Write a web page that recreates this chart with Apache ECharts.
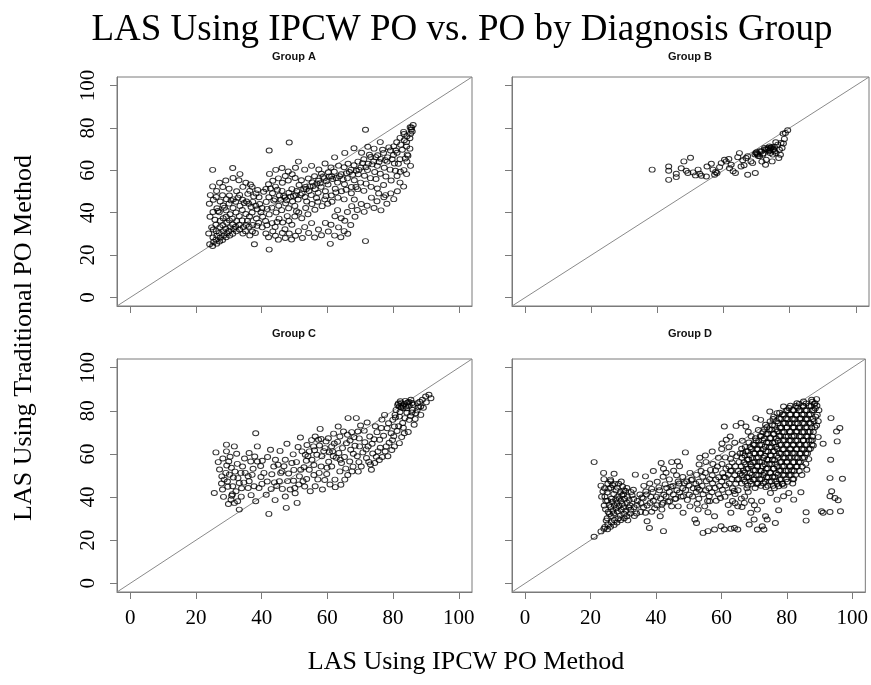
<!DOCTYPE html>
<html><head><meta charset="utf-8">
<script src="https://cdn.jsdelivr.net/npm/echarts@6/dist/echarts.min.js"></script>
<style>html,body{margin:0;padding:0;background:#fff}#c{width:871px;height:685px}</style>
</head><body><div id="c"></div>
<script>
const mainTitle = "LAS Using IPCW PO vs. PO by Diagnosis Group";
const xTitle = "LAS Using IPCW PO Method";
const yTitle = "LAS Using Traditional PO Method";
const panelTitles = ["Group A", "Group B", "Group C", "Group D"];
const tickValues = [0, 20, 40, 60, 80, 100];
const identityLine = [[-4, -4], [104, 104]];

const groupA = [
[24.2,25.1],[25.1,24.3],[25.4,26.2],[26.3,25.4],[26.1,27.3],[27.2,26.4],[27.4,28.2],[28.1,27.1],[28.5,29.3],[29.2,28.4],[29.4,30.3],[30.3,29.2],[30.1,31.4],[31.2,30.1],[31.5,32.3],[32.3,31.2],[32.1,33.4],[33.3,32.1],[33.2,34.3],[34.4,33.2],
[25.2,28.3],[26.4,29.1],[27.1,30.4],[28.3,31.2],[29.1,32.4],[30.4,33.1],[31.2,34.4],[26.2,31.3],[27.3,33.2],[28.2,34.1],[29.4,35.3],[30.2,36.4],[25.3,32.1],[26.1,34.3],[27.4,36.2],[28.3,37.4],[29.2,38.1],[30.4,39.3],[31.1,37.2],[32.4,36.1],
[33.2,38.4],[34.1,36.3],[35.3,34.2],[36.2,33.4],[35.1,31.3],[34.3,30.2],[36.4,29.3],[37.2,31.1],[38.1,30.4],[37.3,34.2],[24.3,38.1],[25.2,40.3],[26.4,42.1],[27.1,40.2],[28.3,43.4],[29.2,41.1],[30.1,44.3],[31.3,42.2],[32.2,40.1],[33.4,43.2],
[34.1,41.3],[35.2,39.4],[36.3,38.2],[37.1,40.1],[38.4,37.3],[24.1,44.2],[25.3,46.1],[26.2,47.4],[27.4,45.3],[28.1,48.2],[29.3,46.4],[30.2,48.1],[31.4,46.3],[32.1,45.2],[33.3,48.4],[34.2,46.1],[35.4,45.3],[36.1,44.2],[37.3,45.1],[38.2,43.3],
[24.4,48.3],[26.3,50.2],[28.2,52.1],[30.1,51.3],[32.4,50.1],[34.3,52.2],[25.1,52.4],[27.2,54.1],[29.1,55.2],[31.3,56.4],[33.1,55.3],[35.2,54.1],[36.4,50.3],[37.1,52.2],[38.3,49.1],[39.2,47.3],[39.4,44.1],[40.1,42.2],[40.3,38.1],[39.1,35.3],
[40.2,33.1],[41.3,30.2],[42.1,28.4],[43.4,31.2],[44.2,29.1],[45.1,27.3],[46.3,30.4],[47.2,28.1],[48.4,30.2],[49.1,27.4],[50.3,29.1],
[25.1,60.2],[31.2,61.1],[33.4,58.2],[42.3,69.3],[48.4,73.1],[51.2,64.1],[71.6,79.1],[42.3,22.6],[37.8,25.1],[60.9,25.3],[65.1,31.3],[71.6,26.6],
[41.2,36.1],[42.3,39.2],[43.1,42.4],[44.4,40.1],[45.2,43.3],[46.1,41.2],[47.3,44.4],[48.2,42.1],[49.4,45.3],[50.1,43.2],[41.4,45.1],[42.2,47.3],[43.3,49.2],[44.1,46.4],[45.4,48.1],[46.2,50.3],[47.1,47.2],[48.3,49.4],[49.2,51.1],[50.4,48.3],
[51.1,46.2],[52.3,49.1],[53.2,47.4],[54.4,50.2],[55.1,48.3],[56.3,51.1],[57.2,49.4],[58.1,52.2],[59.4,50.1],[60.2,53.3],[41.3,51.2],[42.1,53.4],[43.4,55.1],[44.2,52.3],[45.1,56.2],[46.3,54.1],[47.2,57.3],[48.1,55.2],[49.3,58.1],[50.2,56.4],
[51.4,53.1],[52.1,55.3],[53.3,52.2],[54.2,56.1],[55.4,54.3],[56.1,57.2],[57.3,55.1],[58.2,58.4],[59.1,56.2],[60.3,59.1],[42.4,58.3],[44.3,60.2],[46.2,61.1],[48.1,59.4],[50.3,61.2],[53.1,60.3],[55.2,62.1],[57.4,60.4],[59.3,63.2],[61.1,61.3],
[43.2,35.1],[44.1,33.3],[45.3,37.2],[46.4,35.4],[47.1,32.2],[48.3,36.1],[49.2,34.3],[50.1,38.2],[51.3,40.1],[52.2,37.4],[53.4,42.2],[54.1,39.3],[55.3,44.1],[56.2,41.4],[57.1,45.2],[58.4,43.1],[59.2,46.3],[60.1,44.2],
[51.2,31.3],[52.4,28.1],[53.1,33.2],[54.3,30.4],[55.2,35.1],[56.1,28.3],[57.3,32.1],[58.2,29.4],[59.4,35.2],[60.3,31.1],[61.1,34.3],[62.2,29.2],[63.4,33.1],[64.1,28.4],[65.3,36.2],[66.2,30.1],[67.1,34.2],[68.4,38.1],[62.3,38.3],[63.1,41.2],
[64.2,37.4],[66.1,40.3],[67.4,43.1],[68.2,46.2],[69.1,41.3],[70.3,44.1],[71.2,40.4],[72.1,43.3],[73.4,47.1],[74.2,42.2],[75.1,45.4],[76.3,41.1],[77.2,47.3],[78.1,44.2],[79.3,49.1],[80.2,46.4],
[61.2,48.1],[62.4,51.3],[63.1,54.2],[64.3,50.1],[65.2,53.4],[66.1,56.2],[67.3,52.1],[68.2,55.3],[69.4,58.1],[70.1,54.2],[71.3,57.4],[72.2,60.1],[73.1,56.3],[74.4,59.2],[75.2,62.1],[76.1,58.4],[77.3,61.2],[78.2,64.1],[79.1,60.3],[80.4,63.2],
[61.3,57.1],[62.1,59.3],[63.4,62.2],[64.2,58.1],[65.1,61.4],[66.3,63.1],[67.2,60.2],[68.1,62.4],[69.3,64.1],[70.2,61.3],[71.1,65.2],[72.4,63.1],[73.2,66.3],[74.1,64.2],[75.3,67.1],[76.2,65.4],[77.1,68.2],[78.3,66.1],[79.2,69.3],[80.1,67.2],
[62.2,66.1],[65.3,68.2],[68.1,70.4],[70.4,68.3],[72.3,71.1],[74.2,70.2],[76.1,73.3],[61.4,45.2],[63.2,47.1],[65.1,46.3],[67.3,49.2],[69.2,51.1],[71.1,50.3],[73.3,52.2],[75.2,51.4],[77.1,53.1],[79.4,55.2],[81.2,57.3],[82.1,54.2],[83.3,60.1],
[84.1,58.2],[81.3,50.1],[83.2,52.3],[77.7,48.3],[75.6,49.1],
[80.2,71.3],[81.1,73.2],[82.3,72.1],[82.1,75.3],[83.4,74.2],[84.2,76.1],[84.1,73.3],[85.3,77.2],[85.1,75.1],[85.8,78.3],[85.6,80.2],[85.5,79.1],[86.1,81.4],[85.2,80.3],[83.3,77.1],[81.2,68.3],[82.1,65.2],[84.3,67.4],[85.1,70.2],[84.2,64.1],
[82.2,59.3],[85.3,62.1],[84.5,66.9],[84.1,71.2],[83.2,78.1],
[34.7,44.6],[36.8,42.7],[38.7,41.6],[39.8,40.2],[41.7,41.8],[43.7,45.7],[45.8,46.1],[47.6,45.9],[49.7,47.8],[51.8,48.4],[53.6,51.2],[55.7,52.6],[57.8,53.9],[59.7,54.8],[61.6,55.9],[63.7,57.2],[65.8,58.6],[67.7,57.9],[69.6,60.2],[71.7,61.4],
[73.6,62.8],[75.7,63.9],[77.6,64.8],[79.7,65.2],[81.6,63.1],[83.7,65.6],[82.8,69.7],[80.8,69.3],[78.7,70.8],[76.8,69.7],[74.7,66.2],[72.8,67.3],[70.7,63.4],[68.8,59.8],[66.7,59.2],[64.8,55.7],[62.7,56.4],[60.6,57.1],[58.7,56.9],[56.8,53.8],
[54.7,52.4],[52.8,51.1],[50.7,50.2],[48.8,47.6],[46.7,47.9],[44.8,50.8],[42.7,51.4],[40.6,49.9],[38.8,50.7],[36.6,53.3],[35.8,48.9],[37.6,47.7],[32.8,47.1],[30.7,45.8],[28.7,42.3],[26.7,40.8],[25.8,36.7],[24.8,33.1],[23.9,30.2],[35.7,36.2],
[38.6,33.8],[41.6,34.1],[44.7,35.6],[47.8,38.4],[50.6,40.7],[53.7,45.3],[56.7,46.9],[59.6,47.8],[62.6,49.6],[65.7,50.8],[68.7,52.1],[71.8,53.7],[74.8,55.9],[77.8,57.1],[80.7,59.8]
];

const groupB = [
[38.4,60.3],[43.4,61.8],[43.4,59.8],[43.4,55.5],[45.7,58.4],[45.7,56.8],[47.2,61.0],[48.0,64.2],[50.0,65.9],[48.7,59.8],[49.2,58.7],[50.8,59.0],[52.3,60.3],[52.8,58.4],[53.3,57.4],[54.8,57.1],[55.0,61.8],[56.3,63.1],[56.8,60.3],[57.3,57.9],
[58.0,58.7],[58.8,61.5],[59.3,63.4],[60.3,65.0],[60.8,64.2],[61.6,65.3],[61.8,61.0],[62.3,62.6],[63.6,58.7],[64.3,66.2],[64.8,68.1],[65.3,61.8],[65.8,64.7],[66.8,65.8],[67.3,66.6],[67.3,57.9],[68.3,64.2],[68.8,63.4],[69.6,58.7],[69.8,68.1],
[70.3,67.4],[70.9,66.6],[71.4,68.9],[71.9,67.4],[72.4,70.5],[72.7,62.6],[72.9,65.0],[73.4,69.7],[73.9,71.3],[74.1,68.1],[74.4,70.5],[74.7,64.2],[74.9,67.4],[75.1,69.7],[75.4,71.0],[75.9,68.1],[76.4,72.1],[76.7,65.8],[76.9,69.7],[77.4,72.9],
[77.7,70.5],[78.1,72.6],[78.4,74.8],[78.7,77.6],[79.4,78.9],[78.0,77.3],[73.0,70.0],[73.5,70.5],[74.0,69.5],[74.5,71.0],[75.0,70.0],[75.5,69.0],[74.2,70.3],[73.8,69.0],[72.5,69.8],[71.0,69.0],[70.0,68.5],[72.0,68.0],[69.5,67.5],[70.5,66.8],
[70.1,67.8],[66.2,62.4],[62.9,59.6],[57.6,59.2],[51.5,57.6],[77.2,67.3],[75.8,73.2],[71.6,64.1]
];

const groupC = [
[25.6,41.9],[26.1,60.7],[29.3,64.3],[29.3,61.2],[31.7,63.5],[32.4,60.1],[30.0,56.5],[29.1,51.2],[28.6,48.1],[30.2,50.4],[28.1,43.5],[31.2,45.0],[30.7,38.8],[31.7,37.3],[32.7,38.1],[33.2,34.2],[32.2,42.7],[33.2,46.5],[33.7,51.2],[34.2,54.2],
[36.2,60.4],[38.2,69.6],[38.7,63.5],[38.7,56.5],[36.7,56.5],[35.0,51.2],[36.2,47.3],[35.9,44.2],[37.7,45.0],[39.2,44.2],[40.7,51.2],[41.4,41.1],[42.2,32.2],[42.7,61.9],[44.2,57.3],[43.7,54.2],[45.0,55.0],[46.2,51.9],[45.4,47.3],[47.2,57.3],
[47.7,64.7],[49.2,55.8],[49.7,47.6],[47.5,35.0],[50.8,37.3],[48.7,43.5],[51.8,67.6],[52.3,61.2],[51.5,49.6],[51.3,45.8],[53.3,59.6],[54.5,61.2],[55.3,57.3],[54.5,52.7],[54.8,42.7],[56.3,45.0],[56.3,68.1],[57.8,71.6],[57.3,66.6],[55.8,63.5],
[58.3,58.9],[58.1,54.2],[57.5,51.2],[58.5,43.5],[59.3,62.7],[60.3,67.3],[61.3,63.5],[61.8,58.9],[61.3,54.2],[60.8,45.8],[62.3,48.1],[63.3,72.7],[63.8,68.1],[63.5,60.4],[64.3,55.8],[63.8,51.9],[65.3,48.1],[65.8,65.0],[66.3,76.6],[67.1,61.9],
[66.8,56.5],[67.5,51.9],[68.8,76.6],[69.3,70.4],[69.8,63.5],[69.1,58.9],[70.3,54.2],[71.9,58.1],[72.4,63.5],[72.9,68.1],[73.4,52.7],[74.4,55.8],[75.4,61.2],[75.9,66.6],[76.4,72.0],[77.4,78.1],[77.9,63.5],[78.4,58.9],[79.4,69.6],[79.9,75.8],
[80.4,63.5],[80.9,80.4],[81.4,82.7],[81.9,82.0],[82.4,83.5],[82.9,82.3],[83.4,83.2],[83.9,82.0],[84.4,83.8],[84.9,82.3],[85.4,85.1],[85.9,80.4],[86.9,78.9],[87.4,83.5],[88.4,82.0],[88.9,85.1],[89.9,86.6],[90.9,87.4],[91.5,85.8],[88.4,78.1],
[86.4,73.5],[84.9,75.8],[82.9,74.3],[81.9,77.3],[83.4,69.6],[81.9,65.0],[80.4,72.7],
[27.2,52.8],[27.8,46.3],[29.6,47.2],[30.8,53.6],[31.4,49.1],[32.6,55.4],[28.4,40.1],[29.9,36.8],[31.1,41.3],[33.8,40.2],[26.8,56.2],[30.4,58.7],[34.8,57.9],[37.4,53.1],[39.8,49.3],[40.2,56.8],[41.7,47.2],[43.1,50.6],[44.6,45.1],[46.8,54.3],
[48.2,50.9],[49.8,52.6],[50.6,56.2],[52.9,53.8],[53.7,48.4],[55.9,54.9],[56.8,59.6],[58.9,61.3],[59.8,50.7],[60.4,56.4],[62.7,58.2],[62.1,64.8],[64.6,62.7],[65.2,58.6],[66.9,66.2],[67.8,54.1],[68.4,63.8],[69.7,67.2],[70.8,60.7],[71.4,65.4],
[71.2,70.8],[72.6,56.3],[73.8,60.2],[74.2,66.8],[75.1,70.1],[76.7,58.6],[77.1,68.4],[78.2,71.9],[78.8,65.2],[79.6,61.8],[80.2,68.2],[80.7,76.9],[81.2,70.6],[82.1,79.4],[82.6,67.8],[83.1,72.1],[84.2,79.1],[84.6,70.2],[85.3,77.6],[86.1,82.8],
[86.7,76.2],[87.3,80.2],[88.1,84.2],[89.2,81.4],[90.1,83.9],[82.2,84.4],[83.7,84.6],[84.8,84.1],[81.6,83.4],[83.0,81.2],[85.8,83.6],[70.1,73.2],[67.4,70.1],[64.9,70.4],[61.9,69.4],[59.6,65.8],[55.2,66.4],[53.8,64.1],[51.1,63.2],[45.6,61.4],
[76.1,62.9],[74.9,58.7],[73.1,55.1],[69.4,51.8],[66.2,50.2],[64.1,45.7],[62.4,44.6],[59.2,47.9],[57.1,48.2],[53.1,44.9],[50.2,41.8],[47.2,40.3],[44.1,38.6],[38.2,38.1],[36.8,40.9],
[27.9,49.6],[29.7,44.8],[30.9,40.6],[32.8,48.8],[33.9,44.1],[35.9,49.7],[37.9,58.8],[39.7,54.4],[41.8,58.6],[43.9,46.8],[45.8,51.2],[47.9,47.4],[49.6,59.8],[51.9,52.7],[53.6,56.8],[55.9,50.2],[57.6,63.9],[59.9,53.6],[61.6,61.2],[63.9,57.3],
[65.6,53.2],[67.9,60.1],[69.6,56.2],[71.8,62.1],[73.6,64.7],[75.8,57.2],[77.6,61.1],[79.8,66.4],[81.7,72.8],[83.6,76.6],[85.7,79.2],[87.8,81.6],[84.1,81.2],[82.4,81.6],[80.6,78.1],[78.6,74.2],[76.6,75.9],[74.6,72.8],[72.1,74.6],[68.1,67.7],
[66.1,68.9],[63.1,65.6],[60.6,60.8],[58.1,66.9],[56.1,61.7],[54.1,58.9],[52.6,47.3],[50.1,44.2],[46.3,43.8],[42.9,43.7],[40.1,46.1],[37.1,50.3],[34.6,46.7],[31.9,51.8],[29.4,54.6],[28.2,57.9]
];

const groupD = [
[21.1,21.6],[23.2,24.1],[24.1,25.3],[24.4,26.2],[25.2,25.1],[25.3,27.4],[26.1,26.2],[26.4,28.3],[27.2,27.1],[27.3,29.4],[28.1,28.2],[28.4,30.1],[29.2,29.3],[29.1,31.4],[30.3,30.2],[30.2,32.3],[31.1,31.1],[31.4,29.2],[32.2,32.4],[25.1,30.2],
[26.3,31.1],[27.1,32.4],[28.2,33.3],[29.4,34.1],[30.1,35.2],[25.4,33.1],[26.2,35.4],[27.3,36.2],[28.1,37.3],[29.3,38.1],[30.4,39.2],[31.2,37.4],[32.1,36.1],[33.3,35.3],[24.2,36.1],[24.4,40.2],[25.2,38.3],[25.1,42.1],[26.4,39.2],[26.2,44.3],
[27.1,41.4],[27.4,46.1],[28.3,40.2],[28.2,44.4],[29.1,42.3],[29.4,47.2],[30.2,43.1],[30.1,41.3],[31.3,40.1],[31.1,44.2],[32.4,42.3],[33.2,39.1],[33.1,43.4],[34.3,38.2],[24.3,44.1],[25.3,46.2],[24.1,48.3],[26.1,48.1],[23.4,40.2],[23.2,45.3],
[21.1,56.2],[24.0,51.2],[27.2,50.8],[26.2,47.3],[33.7,50.4],[36.8,49.6],[35.1,41.2],[34.2,36.3],[32.3,34.1],[33.4,31.2],[34.1,32.4],[35.3,33.1],[36.2,35.3],[35.4,37.2],[36.1,39.4],[37.3,36.1],[38.2,37.3],[37.1,41.2],[38.4,40.1],[39.2,38.3],
[39.1,42.4],[40.3,36.2],[40.2,40.1],[41.4,39.3],[41.1,43.2],[42.2,37.4],[42.4,41.1],[43.1,40.3],[43.3,44.2],[44.2,38.1],[44.1,42.4],[45.3,41.2],[45.2,45.1],[46.1,39.3],[46.4,43.2],[47.2,42.1],[47.1,46.3],[48.3,40.4],[48.2,44.1],[49.1,43.3],
[49.4,47.2],[50.2,41.1],[50.1,45.4],[36.3,45.2],[38.1,46.3],[40.4,47.1],[42.2,49.4],[44.1,48.2],[46.3,50.1],[48.2,49.3],[50.4,51.2],[39.2,52.1],[41.6,55.8],[43.1,51.3],[44.8,56.2],[46.6,56.5],[49.0,60.7],[47.2,54.3],[45.4,52.2],[42.3,53.1],
[37.3,28.8],[38.0,25.7],[36.8,32.7],[42.3,24.2],[41.3,31.1],[41.8,34.2],[44.8,35.7],[46.8,35.7],[48.3,32.7],[50.4,35.7],[51.9,29.6],[52.4,28.0],[52.9,34.2],[54.9,35.7],[55.9,33.0],[57.9,31.1],[54.4,23.4],[55.9,24.2],[57.9,25.0],[59.9,26.5],
[60.9,25.0],[62.9,25.3],[64.0,25.7],[65.0,25.0],[68.5,27.3],[70.0,29.6],[71.0,25.0],[72.5,26.5],[73.0,25.0],[74.0,29.6],[73.5,31.1],[76.5,28.0],[77.5,33.9],[62.9,32.7],[65.0,35.7],[67.0,37.3],[69.0,32.7],[71.0,34.2],[77.0,38.8],[79.0,40.4],
[77.5,45.0],[75.0,41.9],[80.6,41.9],[82.1,38.8],[84.3,42.2],[85.9,33.0],[85.9,29.1],[86.1,52.7],[88.1,63.9],[89.6,67.8],[91.1,64.7],[90.6,33.4],[91.1,32.7],[93.2,33.1],[93.2,40.4],[93.7,42.7],[94.7,39.6],[95.7,38.5],[96.4,33.4],[93.2,48.8],
[97.0,48.5],[93.4,57.3],[95.4,65.8],[95.2,70.4],[96.2,72.0],[93.5,76.6],
[51.2,40.3],[51.4,44.1],[51.1,48.2],[52.3,42.4],[52.2,46.1],[52.4,50.3],[53.1,39.2],[53.3,43.4],[53.2,47.1],[54.4,41.3],[54.1,45.2],[54.3,49.4],[55.2,43.1],[55.4,47.3],[55.1,51.2],[56.3,40.4],[56.2,44.1],[56.4,48.3],[57.1,42.2],[57.3,46.4],
[57.2,50.1],[58.4,38.3],[58.1,44.2],[58.3,48.1],[58.2,52.4],[59.1,41.3],[59.4,45.1],[59.2,49.2],[60.3,43.4],[60.1,47.2],[60.4,51.1],[60.2,55.3],[61.1,40.2],[61.3,45.4],[61.2,49.1],[61.4,53.2],[62.2,42.1],[62.4,46.3],[62.1,50.4],[62.3,54.2],
[63.4,44.1],[63.2,48.3],[63.1,52.2],[63.3,56.1],[64.2,41.4],[64.4,46.2],[64.1,50.1],[64.3,54.3],[65.1,43.2],[65.3,48.4],[65.2,52.1],[65.4,56.2],[53.2,55.1],[55.3,56.2],[57.4,55.3],[59.1,58.2],[61.2,58.4],[63.3,60.1],[55.1,59.3],[57.2,61.1],
[53.4,58.2],[60.1,62.3],[56.4,38.1],[62.1,36.3],[63.4,38.2],[64.2,37.1],[66.3,35.4],[67.1,40.2],[69.2,38.3],[70.1,36.2],[72.3,38.1],[66.1,39.3],[68.2,42.4],
[60.9,72.7],[62.7,68.1],[61.5,66.6],[64.5,73.0],[66.0,74.3],[67.5,72.7],[70.5,76.6],[72.0,75.8],[73.5,73.5],[74.8,79.7],[76.0,77.3],[77.0,78.9],[79.0,82.0],[81.1,82.3],[83.1,83.5],[85.1,84.3],[87.6,85.1],[89.1,85.4],[88.6,83.5],[60.2,64.8],
[62.3,63.1],[64.1,65.2],[66.4,66.1],[68.2,70.3],[69.1,68.2],[71.3,71.1],[73.2,71.4],
[66.2,46.3],[66.4,50.1],[66.1,54.3],[66.3,58.2],[66.2,62.4],[67.3,47.2],[67.1,51.4],[67.4,55.1],[67.2,59.3],[67.3,63.2],[68.1,45.4],[68.4,49.2],[68.2,53.1],[68.3,57.4],[68.1,61.2],[68.4,65.3],[69.2,46.1],[69.3,50.3],[69.1,54.2],[69.4,58.1],
[69.2,62.3],[70.3,44.2],[70.1,48.1],[70.4,52.4],[70.2,56.3],[70.3,60.2],[70.1,64.1],[70.4,67.3],[71.2,46.4],[71.4,50.2],[71.1,54.1],[71.3,58.3],[71.2,62.2],[71.4,66.1],[72.1,45.2],[72.3,48.3],[72.2,52.1],[72.4,56.2],[72.1,60.4],[72.3,64.3],
[72.2,68.2],[73.4,47.1],[73.1,51.3],[73.3,55.2],[73.2,59.1],[73.4,63.4],[73.1,67.2],[74.2,45.3],[74.4,49.1],[74.1,53.4],[74.3,57.3],[74.2,61.1],[74.4,65.2],[74.1,69.4],[75.3,47.2],[75.1,51.1],[75.4,55.3],[75.2,59.2],[75.3,63.1],[75.1,67.4],
[75.4,71.2],[76.2,44.1],[76.4,49.3],[76.1,53.2],[76.3,57.1],[76.2,61.3],[76.4,65.4],[76.1,69.2],[76.3,73.1],[77.1,46.2],[77.3,50.4],[77.2,54.1],[77.4,58.2],[77.1,62.3],[77.3,66.1],[77.2,70.4],[77.4,74.2],[78.3,48.1],[78.1,52.2],[78.4,56.3],
[78.2,60.1],[78.3,64.2],[78.1,68.3],[78.4,72.1],[78.2,76.2],[79.1,45.3],[79.3,50.2],[79.2,54.4],[79.4,58.1],[79.1,62.2],[79.3,66.4],[79.2,70.1],[79.4,74.3],[79.1,78.2],[80.2,47.1],[80.4,52.3],[80.1,56.2],[80.3,60.4],[80.2,64.1],[80.4,68.2],
[80.1,72.3],[80.3,76.1],[80.2,80.2],[81.3,50.2],[81.1,54.1],[81.4,58.3],[81.2,62.4],[81.3,66.2],[81.1,70.1],[81.4,74.2],[81.2,78.3],[82.1,48.4],[82.3,52.1],[82.2,56.2],[82.4,60.3],[82.1,64.1],[82.3,68.4],[82.2,72.2],[82.4,76.1],[82.1,80.3],
[83.2,54.2],[83.4,58.1],[83.1,62.3],[83.3,66.2],[83.2,70.4],[83.4,74.1],[83.1,78.2],[83.3,81.4],[84.1,56.1],[84.3,60.3],[84.2,64.2],[84.4,68.1],[84.1,72.3],[84.3,76.4],[84.2,80.2],[85.4,58.3],[85.2,62.1],[85.1,66.4],[85.3,70.2],[85.4,74.1],
[85.2,78.3],[85.1,82.1],[86.3,60.2],[86.1,64.3],[86.4,68.1],[86.2,72.4],[86.3,76.2],[86.1,80.1],[87.2,62.4],[87.4,66.2],[87.1,70.3],[87.3,74.1],[87.2,78.4],[87.4,82.2],[88.1,70.2],[88.3,75.1],[88.2,80.3],[88.4,83.1],[89.1,73.2],[89.3,78.1],
[89.2,82.3],[67.8,44.1],[73.6,44.6],[78.6,46.2],[81.8,46.3],[84.6,50.2],[85.8,55.4],[86.7,57.6],[87.8,66.3],[65.7,60.2],[64.7,58.9],[62.8,57.7],
[66.8,48.2],[66.7,52.3],[66.9,56.1],[66.6,60.4],[67.8,49.1],[67.7,53.2],[67.9,57.4],[67.6,61.3],[68.8,47.3],[68.7,51.1],[68.9,55.2],[68.6,59.4],[68.8,63.1],[69.7,48.2],[69.8,52.4],[69.6,56.1],[69.9,60.3],[69.7,64.4],[70.8,46.1],[70.6,50.2],
[70.9,54.4],[70.7,58.1],[70.8,62.3],[70.6,66.2],[71.7,48.3],[71.9,52.1],[71.6,56.4],[71.8,60.2],[71.7,64.1],[71.9,68.3],[72.8,46.4],[72.7,50.2],[72.6,54.3],[72.9,58.1],[72.8,62.2],[72.6,66.4],[72.7,70.1],[73.8,49.2],[73.7,53.1],[73.9,57.4],
[73.6,61.2],[73.8,65.3],[73.7,69.1],[73.9,72.4],[74.7,47.1],[74.8,51.3],[74.6,55.2],[74.9,59.4],[74.7,63.1],[74.8,67.2],[74.6,71.3],[74.9,75.1],[75.8,45.2],[75.7,49.4],[75.9,53.1],[75.6,57.3],[75.8,61.2],[75.7,65.1],[75.9,69.3],[75.6,73.4],
[75.8,76.2],[76.7,47.3],[76.8,51.1],[76.6,55.4],[76.9,59.2],[76.7,63.3],[76.8,67.1],[76.6,71.4],[76.9,75.2],[77.8,48.2],[77.6,52.3],[77.9,56.1],[77.7,60.4],[77.8,64.2],[77.6,68.3],[77.9,72.1],[77.7,76.3],[77.8,79.1],[78.7,46.1],[78.8,50.3],
[78.6,54.2],[78.9,58.4],[78.7,62.1],[78.8,66.3],[78.6,70.2],[78.9,74.1],[78.7,78.3],[79.8,48.3],[79.6,52.1],[79.9,56.3],[79.7,60.2],[79.8,64.4],[79.6,68.1],[79.9,72.2],[79.7,76.4],[79.8,80.1],[80.7,50.1],[80.8,54.3],[80.6,58.2],[80.9,62.1],
[80.7,66.3],[80.8,70.4],[80.6,74.1],[80.9,78.2],[80.7,81.3],[81.8,48.2],[81.6,52.4],[81.9,56.1],[81.7,60.3],[81.8,64.2],[81.6,68.1],[81.9,72.4],[81.7,76.2],[81.8,80.4],[82.7,50.3],[82.8,54.1],[82.6,58.4],[82.9,62.2],[82.7,66.1],[82.8,70.3],
[82.6,74.2],[82.9,78.1],[82.7,82.2],[83.8,52.1],[83.6,56.3],[83.9,60.1],[83.7,64.4],[83.8,68.2],[83.6,72.1],[83.9,76.3],[83.7,80.1],[83.8,83.2],[84.7,54.2],[84.8,58.1],[84.6,62.3],[84.9,66.2],[84.7,70.1],[84.8,74.3],[84.6,78.2],[84.9,82.4],
[85.8,60.3],[85.6,64.1],[85.9,68.2],[85.7,72.3],[85.8,76.1],[85.6,80.2],[85.9,83.4],[86.7,62.1],[86.8,66.3],[86.6,70.2],[86.9,74.4],[86.7,78.1],[86.8,82.3],[87.7,64.2],[87.8,68.1],[87.6,72.3],[87.9,76.2],[87.7,80.1],[87.8,84.2],[88.6,72.4],
[88.8,77.3],[88.7,81.1],[89.6,75.2],[89.8,80.3],
[35.7,39.8],[36.9,42.6],[38.7,43.8],[40.9,44.5],[42.8,45.9],[44.6,44.8],[46.8,47.2],[48.7,46.4],[50.8,47.9],[52.7,44.3],[53.8,52.1],[56.7,52.6],[58.8,54.2],[60.8,49.3],[62.8,52.2],[64.8,48.1],[65.8,50.9],[63.9,42.8],[59.7,39.6],[55.8,38.2],
[52.6,36.9],[49.6,38.7],[47.7,40.2],[45.8,39.1],[43.7,37.8],[41.8,36.6],[39.6,34.8],[38.7,33.2],
[24.8,29.1],[25.8,32.2],[26.8,33.7],[27.8,34.8],[28.7,35.9],[29.7,36.8],[30.8,33.7],[31.7,35.2],[24.6,34.3],[25.7,36.4],[26.7,37.8],[27.7,38.9],[28.8,39.4],[29.6,40.7],[30.7,42.8],[31.8,38.6],[32.7,40.9],[25.6,43.9],[26.7,45.6],[28.6,46.2],
[27.8,43.1],[29.8,44.9],[23.8,42.6],[24.7,38.2]
];

const groups = [groupA, groupB, groupC, groupD];

const serif = '"Liberation Serif", "Times New Roman", serif';
const sans = '"Liberation Sans", Arial, sans-serif';
const boxColor = '#7a7a7a';

const gridPos = [
  {left: 117, top: 77, width: 355, height: 229},
  {left: 512, top: 77, width: 357, height: 229},
  {left: 117, top: 359, width: 355, height: 233},
  {left: 512, top: 359, width: 357, height: 233}
];
const titlePos = [[294, 57], [690, 57], [294, 334], [690, 334]];

const grid = [], xAxis = [], yAxis = [], series = [], graphic = [];
gridPos.forEach((g, i) => {
  grid.push(Object.assign({show: true, borderColor: boxColor, borderWidth: 1, backgroundColor: 'transparent'}, g));
  xAxis.push({
    type: 'value', gridIndex: i, min: -4, max: 104, position: 'bottom',
    axisLine: {show: true, onZero: false, lineStyle: {color: boxColor, width: 1}},
    splitLine: {show: false},
    axisTick: {show: true, customValues: tickValues, length: 7, inside: false, lineStyle: {color: boxColor, width: 1}},
    axisLabel: {show: i >= 2, customValues: tickValues, fontFamily: serif, fontSize: 21, color: '#000', margin: 16}
  });
  yAxis.push({
    type: 'value', gridIndex: i, min: -4, max: 104, position: 'left',
    axisLine: {show: true, onZero: false, lineStyle: {color: boxColor, width: 1}},
    splitLine: {show: false},
    axisTick: {show: true, customValues: tickValues, length: 7, inside: false, lineStyle: {color: boxColor, width: 1}},
    axisLabel: {show: i % 2 === 0, customValues: tickValues, rotate: 90, fontFamily: serif, fontSize: 21, color: '#000', margin: 18}
  });
  series.push({
    type: 'line', xAxisIndex: i, yAxisIndex: i, data: identityLine, symbol: 'none', silent: true,
    lineStyle: {color: '#8a8a8a', width: 1}, clip: true, z: 1
  });
  series.push({
    type: 'scatter', xAxisIndex: i, yAxisIndex: i, data: groups[i], symbol: 'circle', symbolSize: [6, 5],
    itemStyle: {color: 'rgba(0,0,0,0)', borderColor: '#000', borderWidth: 1}, z: 2
  });
  graphic.push({type: 'text', x: titlePos[i][0], y: titlePos[i][1], style: {text: panelTitles[i], font: 'bold 11px ' + sans, fill: '#111', textAlign: 'center', textVerticalAlign: 'middle'}});
});
graphic.push({type: 'text', x: 462, y: 30, style: {text: mainTitle, font: '37px ' + serif, fill: '#000', textAlign: 'center', textVerticalAlign: 'middle'}});
graphic.push({type: 'text', x: 466, y: 662, style: {text: xTitle, font: '26px ' + serif, fill: '#000', textAlign: 'center', textVerticalAlign: 'middle'}});
graphic.push({type: 'text', x: 24, y: 338, rotation: Math.PI / 2, style: {text: yTitle, font: '26px ' + serif, fill: '#000', textAlign: 'center', textVerticalAlign: 'middle'}});

const chart = echarts.init(document.getElementById('c'));
chart.setOption({animation: false, backgroundColor: '#fff', grid, xAxis, yAxis, series, graphic});
</script></body></html>
